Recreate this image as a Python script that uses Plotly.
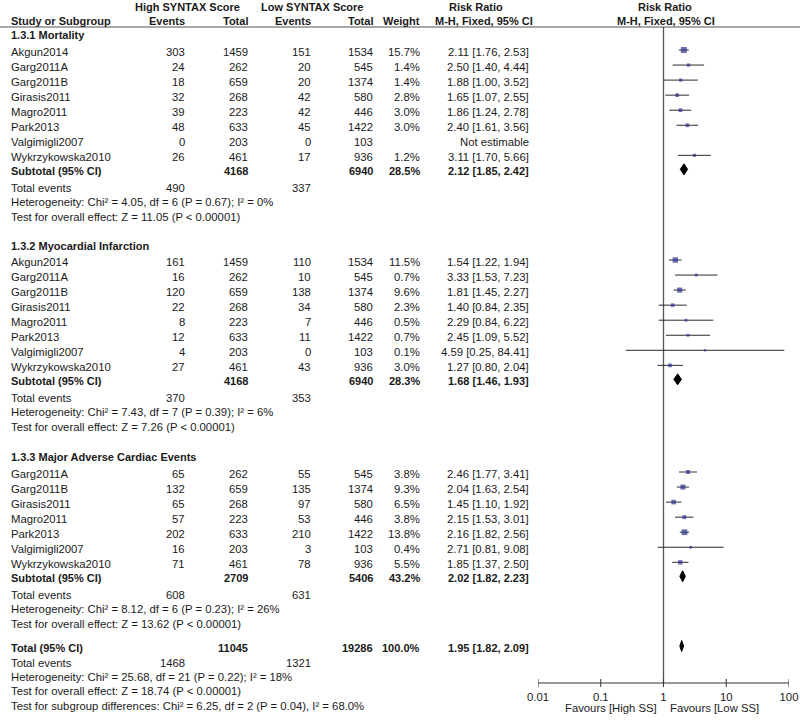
import plotly.graph_objects as go

# ---------------- data ----------------
study_mort = ["Akgun2014", "Garg2011A", "Garg2011B", "Girasis2011", "Magro2011", "Park2013", "Valgimigli2007", "Wykrzykowska2010"]
hi_ev_mort = [303, 24, 18, 32, 39, 48, 0, 26]
hi_tot_mort = [1459, 262, 659, 268, 223, 633, 203, 461]
lo_ev_mort = [151, 20, 20, 42, 42, 45, 0, 17]
lo_tot_mort = [1534, 545, 1374, 580, 446, 1422, 103, 936]
w_mort = [15.7, 1.4, 1.4, 2.8, 3.0, 3.0, None, 1.2]
rr_mort = [2.11, 2.50, 1.88, 1.65, 1.86, 2.40, None, 3.11]
cil_mort = [1.76, 1.40, 1.00, 1.07, 1.24, 1.61, None, 1.70]
ciu_mort = [2.53, 4.44, 3.52, 2.55, 2.78, 3.56, None, 5.66]

study_mi = ["Akgun2014", "Garg2011A", "Garg2011B", "Girasis2011", "Magro2011", "Park2013", "Valgimigli2007", "Wykrzykowska2010"]
hi_ev_mi = [161, 16, 120, 22, 8, 12, 4, 27]
hi_tot_mi = [1459, 262, 659, 268, 223, 633, 203, 461]
lo_ev_mi = [110, 10, 138, 34, 7, 11, 0, 43]
lo_tot_mi = [1534, 545, 1374, 580, 446, 1422, 103, 936]
w_mi = [11.5, 0.7, 9.6, 2.3, 0.5, 0.7, 0.1, 3.0]
rr_mi = [1.54, 3.33, 1.81, 1.40, 2.29, 2.45, 4.59, 1.27]
cil_mi = [1.22, 1.53, 1.45, 0.84, 0.84, 1.09, 0.25, 0.80]
ciu_mi = [1.94, 7.23, 2.27, 2.35, 6.22, 5.52, 84.41, 2.04]

study_mace = ["Garg2011A", "Garg2011B", "Girasis2011", "Magro2011", "Park2013", "Valgimigli2007", "Wykrzykowska2010"]
hi_ev_mace = [65, 132, 65, 57, 202, 16, 71]
hi_tot_mace = [262, 659, 268, 223, 633, 203, 461]
lo_ev_mace = [55, 135, 97, 53, 210, 3, 78]
lo_tot_mace = [545, 1374, 580, 446, 1422, 103, 936]
w_mace = [3.8, 9.3, 6.5, 3.8, 13.8, 0.4, 5.5]
rr_mace = [2.46, 2.04, 1.45, 2.15, 2.16, 2.71, 1.85]
cil_mace = [1.77, 1.63, 1.10, 1.53, 1.82, 0.81, 1.37]
ciu_mace = [3.41, 2.54, 1.92, 3.01, 2.56, 9.08, 2.50]

group_names = ["1.3.1 Mortality", "1.3.2 Myocardial Infarction", "1.3.3 Major Adverse Cardiac Events"]
sub_hi_tot = [4168, 4168, 2709]
sub_lo_tot = [6940, 6940, 5406]
sub_w = [28.5, 28.3, 43.2]
sub_rr = [2.12, 1.68, 2.02]
sub_cil = [1.85, 1.46, 1.82]
sub_ciu = [2.42, 1.93, 2.23]
sub_hi_ev = [490, 370, 608]
sub_lo_ev = [337, 353, 631]
sub_het = ["Heterogeneity: Chi² = 4.05, df = 6 (P = 0.67); I² = 0%",
           "Heterogeneity: Chi² = 7.43, df = 7 (P = 0.39); I² = 6%",
           "Heterogeneity: Chi² = 8.12, df = 6 (P = 0.23); I² = 26%"]
sub_test = ["Test for overall effect: Z = 11.05 (P < 0.00001)",
            "Test for overall effect: Z = 7.26 (P < 0.00001)",
            "Test for overall effect: Z = 13.62 (P < 0.00001)"]

tot_hi_tot = 11045
tot_lo_tot = 19286
tot_w = 100.0
tot_rr = 1.95
tot_cil = 1.82
tot_ciu = 2.09
tot_hi_ev = 1468
tot_lo_ev = 1321
tot_het = "Heterogeneity: Chi² = 25.68, df = 21 (P = 0.22); I² = 18%"
tot_test = "Test for overall effect: Z = 18.74 (P < 0.00001)"
tot_subgroup = "Test for subgroup differences: Chi² = 6.25, df = 2 (P = 0.04), I² = 68.0%"

tick_vals = [0.01, 0.1, 1, 10, 100]
tick_text = ["0.01", "0.1", "1", "10", "100"]

# ---------------- layout helpers ----------------
W, H = 800, 721
FONT = "Arial, 'Liberation Sans', Helvetica, sans-serif"
TXT = "#1a1a1a"
FS = 11.3
FSB = 11
TOFF = 1.5

X_LABEL = 10
X_HEV = 186
X_HTOT = 249
X_LEV = 312
X_LTOT = 374
X_W = 421
X_RR = 530

ann = []


def text(x, y, s, anchor="left", bold=False):
    ann.append(dict(x=x / W, y=y + TOFF, xref="paper", yref="y",
                    text=f"<b>{s}</b>" if bold else s, showarrow=False,
                    xanchor=anchor, yanchor="middle", borderpad=0,
                    font=dict(family=FONT, size=FSB if bold else FS, color=TXT)))


def fmt_rr(r, l, u):
    return f"{r:.2f} [{l:.2f}, {u:.2f}]"


groups = [
    (study_mort, hi_ev_mort, hi_tot_mort, lo_ev_mort, lo_tot_mort, w_mort, rr_mort, cil_mort, ciu_mort),
    (study_mi, hi_ev_mi, hi_tot_mi, lo_ev_mi, lo_tot_mi, w_mi, rr_mi, cil_mi, ciu_mi),
    (study_mace, hi_ev_mace, hi_tot_mace, lo_ev_mace, lo_tot_mace, w_mace, rr_mace, cil_mace, ciu_mace),
]
hdr_y = [33, 244, 455]
first_y = [50, 260, 472]
step = 15.05

ci_x, ci_y = [], []
sq_x, sq_y, sq_s = [], [], []
dia_x, dia_y = [], []

# headers
text(187, 5, "High SYNTAX Score", "center", True)
text(312, 5, "Low SYNTAX Score", "center", True)
text(476, 5, "Risk Ratio", "center", True)
text(665, 5, "Risk Ratio", "center", True)
text(X_LABEL, 19.5, "Study or Subgroup", "left", True)
text(X_HEV, 19.5, "Events", "right", True)
text(X_HTOT, 19.5, "Total", "right", True)
text(X_LEV, 19.5, "Events", "right", True)
text(X_LTOT, 19.5, "Total", "right", True)
text(X_W, 19.5, "Weight", "right", True)
text(484, 19.5, "M-H, Fixed, 95% CI", "center", True)
text(666, 19.5, "M-H, Fixed, 95% CI", "center", True)


def add_diamond(y, r, l, u, h=5.5):
    dia_x.extend([l, r, u, r, l, None])
    dia_y.extend([y, y - h, y, y + h, y, None])


for g, (st, hev, htot, lev, ltot, w, rr, cl, cu) in enumerate(groups):
    text(X_LABEL, hdr_y[g], group_names[g], "left", True)
    for i in range(len(st)):
        yy = first_y[g] + i * step
        text(X_LABEL, yy, st[i])
        text(X_HEV, yy, str(hev[i]), "right")
        text(X_HTOT, yy, str(htot[i]), "right")
        text(X_LEV, yy, str(lev[i]), "right")
        text(X_LTOT, yy, str(ltot[i]), "right")
        if rr[i] is None:
            text(X_RR, yy, "Not estimable", "right")
        else:
            text(X_W, yy, f"{w[i]:.1f}%", "right")
            text(X_RR, yy, fmt_rr(rr[i], cl[i], cu[i]), "right")
            ci_x.extend([cl[i], cu[i], None])
            ci_y.extend([yy, yy, None])
            sq_x.append(rr[i])
            sq_y.append(yy)
            sq_s.append(2 + 4 * (w[i] / 15.7) ** 0.5)
        last = yy
    ys = last + 14
    text(X_LABEL, ys, "Subtotal (95% CI)", "left", True)
    text(X_HTOT, ys, str(sub_hi_tot[g]), "right", True)
    text(X_LTOT, ys, str(sub_lo_tot[g]), "right", True)
    text(X_W, ys, f"{sub_w[g]:.1f}%", "right", True)
    text(X_RR, ys, fmt_rr(sub_rr[g], sub_cil[g], sub_ciu[g]), "right", True)
    add_diamond(ys, sub_rr[g], sub_cil[g], sub_ciu[g])
    yt = ys + 17
    text(X_LABEL, yt, "Total events")
    text(X_HEV, yt, str(sub_hi_ev[g]), "right")
    text(X_LEV, yt, str(sub_lo_ev[g]), "right")
    text(X_LABEL, yt + 14.5, sub_het[g])
    text(X_LABEL, yt + 29, sub_test[g])

# overall
yT = 646
text(X_LABEL, yT, "Total (95% CI)", "left", True)
text(X_HTOT, yT, str(tot_hi_tot), "right", True)
text(X_LTOT, yT, str(tot_lo_tot), "right", True)
text(X_W, yT, f"{tot_w:.1f}%", "right", True)
text(X_RR, yT, fmt_rr(tot_rr, tot_cil, tot_ciu), "right", True)
add_diamond(yT, tot_rr, tot_cil, tot_ciu)
text(X_LABEL, yT + 15, "Total events")
text(X_HEV, yT + 15, str(tot_hi_ev), "right")
text(X_LEV, yT + 15, str(tot_lo_ev), "right")
text(X_LABEL, yT + 29, tot_het)
text(X_LABEL, yT + 43.5, tot_test)
text(X_LABEL, yT + 58, tot_subgroup)

# axis captions
text(658, 706, "Favours [High SS]", "right")
text(669, 706, "Favours [Low SS]", "left")

AX_Y = 683
TICK_HALF = 4

ax_x = [tick_vals[0], tick_vals[-1], None]
ax_y = [AX_Y, AX_Y, None]
for tv in tick_vals:
    ax_x.extend([tv, tv, None])
    ax_y.extend([AX_Y - TICK_HALF, AX_Y + TICK_HALF, None])

fig = go.Figure()
fig.add_trace(go.Scatter(x=[1, 1], y=[27, AX_Y], mode="lines",
                         line=dict(color="#555555", width=1.3), hoverinfo="skip"))
fig.add_trace(go.Scatter(x=ax_x, y=ax_y, mode="lines",
                         line=dict(color="#333333", width=1), hoverinfo="skip"))
fig.add_trace(go.Scatter(x=ci_x, y=ci_y, mode="lines",
                         line=dict(color="#2a2a2a", width=1), hoverinfo="skip"))
fig.add_trace(go.Scatter(x=sq_x, y=sq_y, mode="markers",
                         marker=dict(symbol="square", size=sq_s, color="#2e3192",
                                     line=dict(width=0))))
fig.add_trace(go.Scatter(x=dia_x, y=dia_y, mode="lines", fill="toself",
                         fillcolor="#000000", line=dict(color="#000000", width=1),
                         hoverinfo="skip"))

fig.update_layout(
    width=W, height=H,
    margin=dict(l=0, r=0, t=0, b=0, pad=0),
    paper_bgcolor="white", plot_bgcolor="white",
    showlegend=False,
    annotations=ann,
    shapes=[dict(type="line", xref="paper", yref="y", x0=0, x1=1, y0=27, y1=27,
                 line=dict(color="#555555", width=1))],
    xaxis=dict(type="log", range=[-2, 2], domain=[538 / W, 789 / W],
               anchor="free", position=1 - (AX_Y + 6) / H, automargin=False,
               showline=False, ticks="",
               tickvals=tick_vals, ticktext=tick_text,
               tickfont=dict(family=FONT, size=FS, color=TXT),
               showgrid=False, zeroline=False),
    yaxis=dict(range=[H, 0], domain=[0, 1], visible=False, automargin=False,
               showgrid=False, zeroline=False),
)

fig.write_html("out.html",
               config={"displayModeBar": False},
               post_script="document.body.style.margin='0';document.body.style.padding='0';")
